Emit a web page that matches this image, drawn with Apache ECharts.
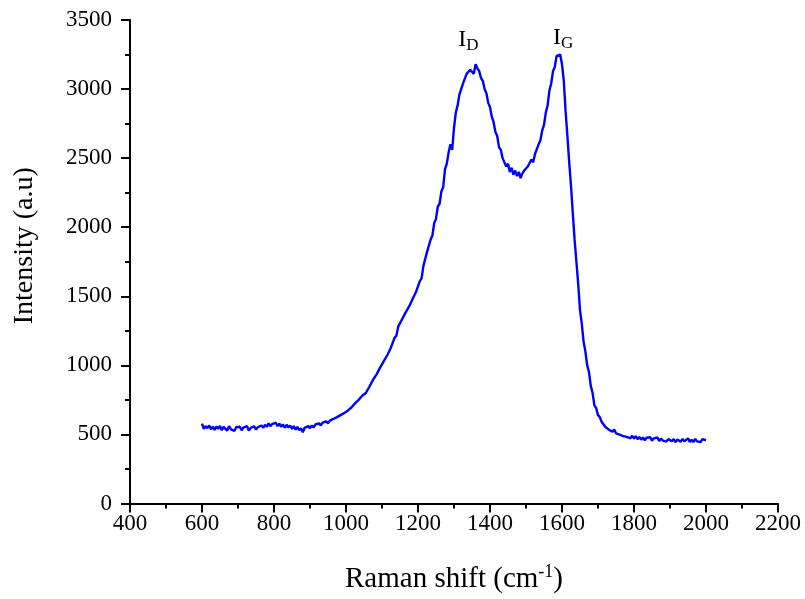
<!DOCTYPE html>
<html>
<head>
<meta charset="utf-8">
<script src="https://cdn.jsdelivr.net/npm/echarts@6/dist/echarts.min.js"></script>
<style>html,body{margin:0;padding:0;background:#fff;}#c{width:805px;height:599px;}</style>
</head>
<body>
<div id="c"></div>
<script>
var xStart = 600, xStep = 5;
var intensity = [
578,540,560,545,565,538,556,532,558,540,562,530,555,545,528,560,538,550,525,552,
542,556,530,550,538,560,528,548,540,558,535,552,545,565,548,570,555,580,560,575,
565,585,560,578,555,572,548,570,550,565,540,560,535,555,530,545,515,548,535,560,
545,565,550,572,558,580,565,585,572,595,580,600,592,612,600,625,615,640,628,655,
648,672,665,695,690,725,720,750,745,780,770,800,805,845,855,895,900,935,945,985,
980,1030,1035,1075,1080,1130,1140,1200,1215,1280,1290,1330,1335,1380,1385,1425,1430,1480,1490,1535,
1545,1610,1630,1720,1770,1820,1830,1910,1940,2030,2060,2150,2170,2260,2290,2420,2460,2540,2600,2560,
2720,2830,2880,2960,2970,3040,3040,3110,3100,3140,3150,3110,3180,3150,3130,3080,3060,3000,2970,2900,
2870,2800,2760,2690,2660,2580,2560,2500,2490,2440,2460,2400,2430,2380,2410,2370,2400,2355,2390,2410,
2410,2440,2430,2490,2470,2530,2520,2600,2630,2700,2740,2830,2880,2990,3040,3130,3160,3240,3230,3250,
3180,3060,2840,2660,2470,2300,2100,1910,1750,1590,1400,1300,1170,1100,1000,950,850,800,710,690,
640,625,592,588,556,562,535,545,520,535,508,522,498,512,488,502,482,495,472,490,
470,488,465,482,462,478,458,476,462,480,455,472,460,478,452,470,455,468,448,466,
470,450,466,445,462,455,448,468,450,464,472,446,462,444,468,450,464,445,466,452,
458
];
var xTicks = [400,600,800,1000,1200,1400,1600,1800,2000,2200];
var yTicks = [0,500,1000,1500,2000,2500,3000,3500];
var peakLabels = [
  {name: 'D', coord: [1340, 3360]},
  {name: 'G', coord: [1603, 3370]}
];

var seriesData = intensity.map(function (v, i) { return [xStart + i * xStep, v]; });
var font = 'Liberation Serif';
var chart = echarts.init(document.getElementById('c'), null, {renderer: 'canvas'});
chart.setOption({
  animation: false,
  backgroundColor: '#fff',
  grid: {left: 130, right: 27, top: 20, bottom: 92, containLabel: false},
  xAxis: {
    type: 'value', min: xTicks[0], max: xTicks[xTicks.length - 1], interval: 200,
    name: '{a|Raman shift (cm}{s|-1}{a|)}', nameLocation: 'middle', nameGap: 60,
    nameTextStyle: {rich: {
      a: {fontFamily: font, fontSize: 29, color: '#000'},
      s: {fontFamily: font, fontSize: 18, color: '#000', padding: [0, 0, 14, 0]}
    }},
    axisLine: {lineStyle: {color: '#000', width: 2}},
    axisTick: {length: 9, lineStyle: {color: '#000', width: 2}},
    minorTick: {show: true, splitNumber: 2, length: 5, lineStyle: {color: '#000', width: 2}},
    splitLine: {show: false},
    axisLabel: {fontFamily: font, fontSize: 23, color: '#000', margin: 9,
      formatter: function (v) { return String(v); }}
  },
  yAxis: {
    type: 'value', min: yTicks[0], max: yTicks[yTicks.length - 1], interval: 500,
    name: 'Intensity (a.u)', nameLocation: 'middle', nameGap: 91,
    nameTextStyle: {fontFamily: font, fontSize: 28, color: '#000', padding: [0, 0, 0, 32]},
    axisLine: {show: true, lineStyle: {color: '#000', width: 2}},
    axisTick: {show: true, length: 9, lineStyle: {color: '#000', width: 2}},
    minorTick: {show: true, splitNumber: 2, length: 5, lineStyle: {color: '#000', width: 2}},
    splitLine: {show: false},
    axisLabel: {fontFamily: font, fontSize: 23, color: '#000', margin: 18,
      formatter: function (v) { return String(v); }}
  },
  series: [{
    type: 'line', data: seriesData, showSymbol: false, symbol: 'none',
    lineStyle: {color: '#0000ff', width: 2.4},
    markPoint: {
      symbol: 'circle', symbolSize: 0,
      data: peakLabels.map(function (p) {
        return {coord: p.coord, label: {show: true, position: 'inside',
          formatter: '{i|I}{s|' + p.name + '}'}};
      }),
      label: {rich: {
        i: {fontFamily: font, fontSize: 24, color: '#000'},
        s: {fontFamily: font, fontSize: 17, color: '#000', padding: [12, 0, 0, 0]}
      }}
    }
  }]
});
</script>
</body>
</html>
